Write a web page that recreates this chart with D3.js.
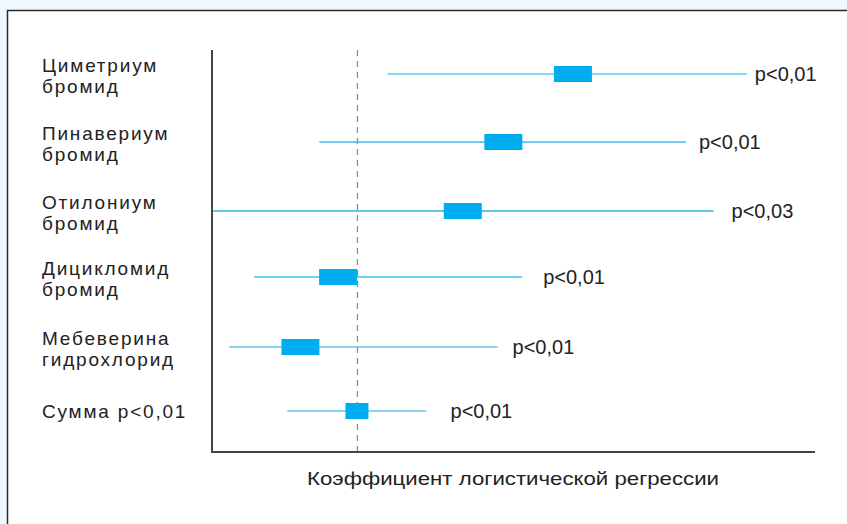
<!DOCTYPE html>
<html><head><meta charset="utf-8">
<script src="https://cdn.jsdelivr.net/npm/d3@7"></script>
<style>
html,body{margin:0;padding:0;background:#eef8fe;}
svg{display:block;}
</style></head>
<body>
<svg id="chart" width="847" height="524"></svg>
<script>
// ---- data ----
const drugsLine1 = ["Циметриум", "Пинавериум", "Отилониум", "Дицикломид", "Мебеверина", "Сумма p<0,01"];
const drugsLine2 = ["бромид", "бромид", "бромид", "бромид", "гидрохлорид", ""];
const estimate = [1.49, 1.01, 0.73, -0.13, -0.39, 0.00];
const ciLow    = [0.21, -0.26, -1.00, -0.71, -0.88, -0.48];
const ciHigh   = [2.69, 2.27, 2.46, 1.14, 0.97, 0.48];
const pLabels  = ["p<0,01", "p<0,01", "p<0,03", "p<0,01", "p<0,01", "p<0,01"];
const xDomain  = [-1, 3.16];
const refValue = 0;
const axisTitle = "Коэффициент логистической регрессии";

// ---- style ----
const labelGap = [8, 13, 18, 21, 15, 24];
const boxW = [38, 38, 38, 38, 38, 23];
const rowY = [74, 142, 211, 277, 347, 411];
const lineColors = ["#5fcdf4", "#3cbdee", "#2fb2e8", "#6fd2f6", "#1ba9e1", "#1ba9e1"];
const lineWidths = [1.6, 1.6, 1.3, 2, 1.2, 1.2];
const FONT = "Liberation Sans, Arial, Helvetica, sans-serif";

const svg = d3.select("#chart");
// panel
svg.append("rect").attr("x", 7).attr("y", 10).attr("width", 850).attr("height", 520).attr("fill", "#ffffff");
svg.append("path").attr("d", "M7.5,530V10.5H847").attr("fill", "none").attr("stroke", "#2a2a2a").attr("stroke-width", 1.5);

const x = d3.scaleLinear().domain(xDomain).range([212, 815]);

const g = svg.append("g");
// dashed reference line
g.append("line").attr("x1", x(refValue) + 0.5).attr("x2", x(refValue) + 0.5).attr("y1", 50).attr("y2", 451)
  .attr("stroke", "#8a8a8a").attr("stroke-width", 1.3).attr("stroke-dasharray", "6,5");

const rows = g.selectAll("g.row").data(d3.range(drugsLine1.length)).join("g").attr("class", "row");
rows.append("line")
  .attr("x1", i => x(ciLow[i])).attr("x2", i => x(ciHigh[i]))
  .attr("y1", i => rowY[i]).attr("y2", i => rowY[i])
  .attr("stroke", i => lineColors[i]).attr("stroke-width", i => lineWidths[i]);
rows.append("rect")
  .attr("x", i => x(estimate[i]) - boxW[i] / 2).attr("width", i => boxW[i])
  .attr("y", i => rowY[i] - 8).attr("height", 16)
  .attr("fill", "#00aeef");
rows.append("text")
  .attr("x", i => x(ciHigh[i]) + labelGap[i]).attr("y", i => rowY[i] + 7)
  .attr("font-family", FONT).attr("font-size", 20).attr("fill", "#222")
  .text(i => pLabels[i]);

// category labels (separate text elements per line)
const catStyle = sel => sel.attr("font-family", FONT).attr("font-size", 19)
  .attr("letter-spacing", 1.8).attr("fill", "#222").attr("x", 42);
g.selectAll("text.cat1").data(d3.range(drugsLine1.length)).join("text").attr("class", "cat1")
  .call(catStyle)
  .attr("y", i => drugsLine2[i] ? rowY[i] - 2 : rowY[i] + 7)
  .text(i => drugsLine1[i]);
g.selectAll("text.cat2").data(d3.range(drugsLine1.length).filter(i => drugsLine2[i])).join("text").attr("class", "cat2")
  .call(catStyle)
  .attr("y", i => rowY[i] + 19)
  .text(i => drugsLine2[i]);

// axes
g.append("line").attr("x1", 212).attr("x2", 212).attr("y1", 50).attr("y2", 452).attr("stroke", "#444").attr("stroke-width", 2);
g.append("line").attr("x1", 211).attr("x2", x(xDomain[1])).attr("y1", 452).attr("y2", 452).attr("stroke", "#444").attr("stroke-width", 2);

g.append("text").attr("x", 307).attr("y", 485)
  .attr("font-family", FONT).attr("font-size", 19).attr("fill", "#222")
  .attr("textLength", 412).attr("lengthAdjust", "spacingAndGlyphs")
  .text(axisTitle);
</script>
</body></html>
